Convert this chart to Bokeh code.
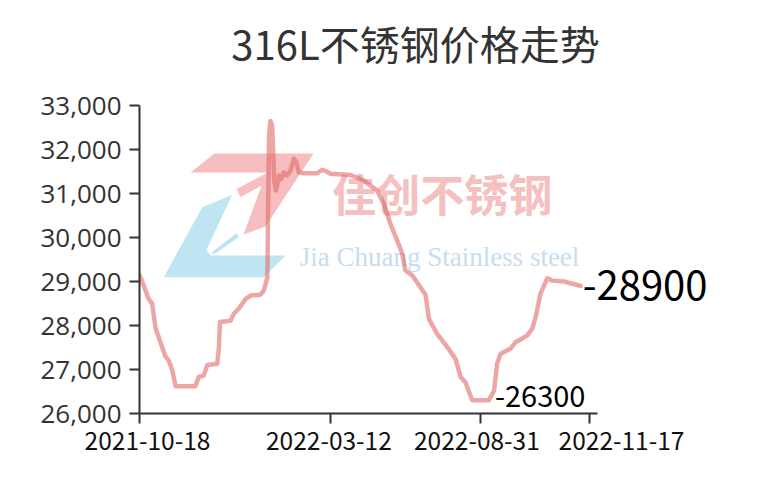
from bokeh.plotting import figure
from bokeh.models import Range1d, FixedTicker, NumeralTickFormatter, Label, LinearAxis
from bokeh.core.properties import value
from bokeh.embed import file_html
from bokeh.resources import INLINE

# ---------------- data ----------------
title_text = "316L不锈钢价格走势"
tick_idx = [0, 56, 100, 132]
tick_labels = ["2021-10-18", "2022-03-12", "2022-08-31", "2022-11-17"]
y_ticks = [26000, 27000, 28000, 29000, 30000, 31000, 32000, 33000]

x_idx = [0, 0.8, 2.7, 3.7, 4.7, 6.2, 7.6, 8.6, 9.6, 10.6, 16.4, 17.4, 18.8, 19.9,
         22.8, 23.3, 23.6, 26.7, 27.7, 29.1, 31.1, 32.6, 35.5, 36.5, 37.5, 37.7,
         38.0, 38.4, 38.9, 39.2, 39.5, 40.0, 40.5, 40.9, 41.6, 42.3, 43.3, 44.3,
         45.3, 46.0, 46.7, 48.2, 52.1, 53.6, 54.6, 56.0, 61.9, 65.7, 67.7, 69.7,
         71.7, 73.6, 75.6, 77.1, 78.0, 80.0, 82.4, 83.9, 84.9, 87.3, 90.3, 92.7,
         94.2, 95.6, 97.6, 102.5, 104.0, 104.9, 105.9, 108.8, 110.3, 113.7, 115.2,
         116.2, 117.6, 119.6, 121.1, 124.5, 126.4, 129.4]
price = [29150, 29000, 28600, 28500, 27950, 27600, 27300, 27200, 26980, 26620, 26620,
         26830, 26860, 27100, 27130, 27500, 28080, 28110, 28270, 28380, 28600, 28680,
         28700, 28800, 29100, 30500, 32300, 32650, 32550, 31980, 31300, 31070, 31220,
         31410, 31330, 31480, 31410, 31520, 31790, 31710, 31480, 31460, 31460, 31540,
         31510, 31450, 31420, 31300, 31180, 31070, 30760, 30310, 29930, 29630, 29250,
         29140, 28870, 28700, 28150, 27810, 27510, 27240, 26830, 26710, 26300, 26300,
         26520, 27130, 27360, 27470, 27620, 27770, 27930, 28190, 28720, 29070, 29020,
         29000, 28960, 28900]

wm_cn = "佳创不锈钢"
wm_en = "Jia Chuang Stainless steel"

# ---------------- helpers (page pixel -> data) ----------------
PX_PER_IDX = 450 / 132
def px_x(px):
    return (px - 139) / PX_PER_IDX
def px_y(py):
    return 26000 + (413 - py) * 7000 / 308

p = figure(width=784, height=492, output_backend="svg", toolbar_location=None,
           x_range=Range1d(0, px_x(784)), y_range=Range1d(26000, px_y(0)),
           x_axis_location=None, y_axis_location=None,
           min_border_left=139, min_border_right=0, min_border_top=0,
           min_border_bottom=79)
p.title = None
p.outline_line_color = None
p.xgrid.visible = False
p.ygrid.visible = False
p.background_fill_color = "white"
p.border_fill_color = "white"

# watermark logo
pink7 = [(190, 172), (214, 153), (313, 153), (265, 226), (243, 234), (266, 172)]
pink_sliver = [(236, 188.5), (266.5, 172.5), (268, 181.5), (240, 196.5)]
blue_main = [(163.3, 276.7), (201.7, 206.7), (231.7, 194.3), (206, 249.3), (210, 255),
             (285, 255), (263.3, 276.7)]
blue_sliver = [(210, 253), (236, 232.5), (238.5, 236.5), (215, 253)]
for poly, col in [(blue_main, "#bfe5f3"), (blue_sliver, "#bfe5f3"),
                  (pink7, "#f6bebe"), (pink_sliver, "#f6bebe")]:
    p.patch([px_x(a) for a, b in poly], [px_y(b) for a, b in poly],
            fill_color=col, line_color=None)

p.text(x=[px_x(441.7)], y=[px_y(192.5)], text=[wm_cn], text_align="center",
       text_baseline="middle", text_font=value("Noto Sans CJK SC"),
       text_font_style="bold", text_font_size="44px", text_color="#f5c0c0")
p.text(x=[px_x(439)], y=[px_y(256.5)], text=[wm_en], text_align="center",
       text_baseline="alphabetic", text_font=value("Liberation Serif"),
       text_font_size="27px", text_color="#c8ddf1")

# price line
p.line(x_idx, price, line_color="#e06b6b", line_alpha=0.6, line_width=4.5,
       line_join="round", line_cap="round")

# y axis
yax = LinearAxis(ticker=FixedTicker(ticks=y_ticks),
                 formatter=NumeralTickFormatter(format="0,0"),
                 bounds=(y_ticks[0], y_ticks[-1]))
yax.minor_tick_line_color = None
yax.major_tick_in = 0
yax.major_tick_out = 10
yax.axis_line_color = "#333333"
yax.axis_line_width = 2
yax.major_tick_line_color = "#333333"
yax.major_tick_line_width = 2
yax.major_label_text_font = "Open Sans"
yax.major_label_text_font_size = "26px"
yax.major_label_text_color = "#333333"
yax.major_label_standoff = 8
p.add_layout(yax, "left")

# x axis: line and ticks
xax = LinearAxis(ticker=FixedTicker(ticks=tick_idx), bounds=(0, px_x(597)))
xax.major_label_overrides = {t: "" for t in tick_idx}
xax.major_label_text_font_size = "1px"
xax.major_label_standoff = 0
xax.minor_tick_line_color = None
xax.major_tick_in = 0
xax.major_tick_out = 10
xax.axis_line_color = "#333333"
xax.axis_line_width = 2
xax.major_tick_line_color = "#333333"
xax.major_tick_line_width = 2
p.add_layout(xax, "below")

# x axis: date labels (shifted as in the original layout)
label_shift_px = [8, -1.5, -3.5, 32]
label_pos = [t + s / PX_PER_IDX for t, s in zip(tick_idx, label_shift_px)]
xlab = LinearAxis(ticker=FixedTicker(ticks=label_pos))
xlab.major_label_overrides = {pos: l for pos, l in zip(label_pos, tick_labels)}
xlab.axis_line_color = None
xlab.major_tick_line_color = None
xlab.minor_tick_line_color = None
xlab.major_tick_in = 0
xlab.major_tick_out = 0
xlab.major_label_text_font = "Noto Sans CJK SC"
xlab.major_label_text_font_size = "24.5px"
xlab.major_label_text_color = "#111111"
xlab.major_label_standoff = 8
p.add_layout(xlab, "below")

# annotations
last_i = len(price) - 1
p.add_layout(Label(x=x_idx[last_i], y=price[last_i], text=f"-{price[last_i]}",
                   x_offset=2, text_baseline="middle", text_font="Noto Sans CJK SC",
                   text_font_size="40px", text_color="#000000"))
min_v = min(price)
min_i = max(i for i, v in enumerate(price) if v == min_v)
p.add_layout(Label(x=x_idx[min_i], y=min_v, text=f"-{min_v}", x_offset=6, y_offset=4,
                   text_baseline="middle", text_font="Noto Sans CJK SC",
                   text_font_size="29px", text_color="#000000"))

p.add_layout(Label(x=px_x(415), y=px_y(42), text=title_text, text_align="center",
                   text_baseline="middle", text_font="Noto Sans CJK SC",
                   text_font_size="40px", text_color="#333333"))

open("out.html", "w").write(file_html(p, INLINE))
